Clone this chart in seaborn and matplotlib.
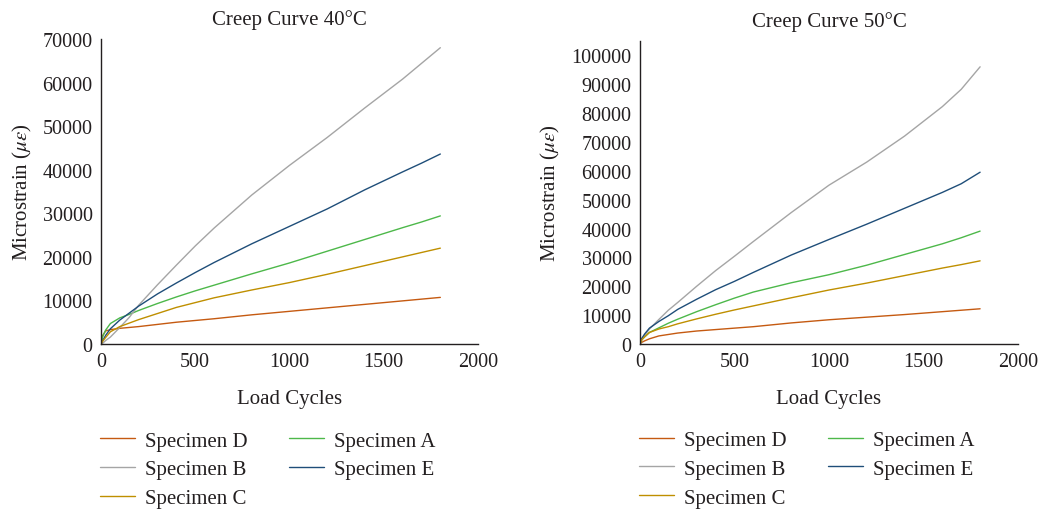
import numpy as np
import pandas as pd
import matplotlib
matplotlib.use("Agg")
import matplotlib.pyplot as plt
import seaborn as sns

cycles = [0, 10, 25, 50, 100, 150, 200, 300, 400, 500, 600, 800, 1000, 1200, 1400, 1600, 1700, 1800]

# 40 C readings (microstrain)
d40 = [0, 2000, 3000, 3300, 3600, 3800, 4000, 4500, 5000, 5400, 5800, 6700, 7500, 8300, 9100, 9900, 10300, 10700]
a40 = [0, 1800, 3200, 4700, 6000, 6800, 7700, 9300, 10800, 12200, 13500, 16100, 18600, 21300, 24000, 26700, 28000, 29400]
b40 = [0, 200, 800, 1600, 3800, 6100, 8900, 13600, 18100, 22500, 26600, 34200, 41000, 47400, 54200, 60800, 64400, 68000]
e40 = [0, 800, 2000, 3500, 5500, 7100, 8700, 11500, 14000, 16400, 18700, 23000, 27000, 31000, 35400, 39500, 41500, 43600]
c40 = [0, 700, 1500, 2800, 4000, 4800, 5600, 7000, 8400, 9500, 10600, 12400, 14100, 16000, 18000, 20000, 21000, 22000]

# 50 C readings (microstrain)
d50 = [0, 600, 1100, 1800, 2800, 3300, 3800, 4500, 5000, 5500, 6000, 7300, 8400, 9300, 10200, 11200, 11700, 12200]
a50 = [0, 1500, 2500, 4000, 5600, 7200, 8600, 11200, 13600, 15900, 18000, 21200, 24000, 27300, 31000, 34700, 36800, 39100]
b50 = [0, 1500, 3000, 5200, 8500, 11700, 14400, 20000, 25400, 30400, 35500, 45500, 55000, 63000, 72000, 82200, 88200, 96000]
e50 = [0, 2000, 3500, 5500, 7800, 9800, 12000, 15500, 18800, 21700, 24800, 30800, 36200, 41500, 47000, 52500, 55500, 59500]
c50 = [0, 1500, 2500, 4000, 5200, 6000, 7000, 8700, 10300, 11800, 13200, 16000, 18700, 21100, 23700, 26300, 27500, 28800]

specimens = ["Specimen D", "Specimen A", "Specimen B", "Specimen E", "Specimen C"]
colors = {"Specimen D": "#C55A11", "Specimen A": "#4DB84A", "Specimen B": "#A5A5A5",
          "Specimen E": "#1F4E79", "Specimen C": "#BF8F00"}


def long_df(series):
    rows = []
    for name, vals in zip(specimens, series):
        for c, v in zip(cycles, vals):
            rows.append({"cycles": c, "strain": v, "specimen": name})
    return pd.DataFrame(rows)


df40 = long_df([d40, a40, b40, e40, c40])
df50 = long_df([d50, a50, b50, e50, c50])

sns.set_style("white")
plt.rcParams["font.family"] = ["Liberation Serif", "DejaVu Serif"]
plt.rcParams["mathtext.fontset"] = "stix"

fig = plt.figure(figsize=(10.44, 5.10), dpi=100)
ax1 = fig.add_axes([0.0967, 0.3235, 0.3612, 0.5981])
ax2 = fig.add_axes([0.613, 0.3235, 0.362, 0.5945])

fs_tick = 14.5
fs = 15
txt = "#231F20"
legend_order = ["Specimen D", "Specimen B", "Specimen C", "Specimen A", "Specimen E"]

for ax, df, title, ymax, ytop, ylpad in [(ax1, df40, "Creep Curve 40°C", 70000, 70000, 6),
                                         (ax2, df50, "Creep Curve 50°C", 100000, 105000, 7)]:
    sns.lineplot(data=df, x="cycles", y="strain", hue="specimen", palette=colors,
                 hue_order=specimens, linewidth=1.0, ax=ax)
    ax.set_xlim(0, 2000)
    ax.set_ylim(0, ytop)
    ax.set_xticks(np.arange(0, 2001, 500))
    ax.set_yticks(np.arange(0, ymax + 1, 10000))
    ax.tick_params(length=0, labelsize=fs_tick, colors=txt, pad=6)
    ax.set_title(title, fontsize=fs, color=txt, pad=11)
    ax.set_xlabel("Load Cycles", fontsize=fs, color=txt, labelpad=13)
    ax.set_ylabel(r"Microstrain ($\mu\varepsilon$)", fontsize=fs, color=txt, labelpad=ylpad)
    sns.despine(ax=ax)
    for s in ["left", "bottom"]:
        ax.spines[s].set_color(txt)
        ax.spines[s].set_linewidth(1.0)
    handles, labels = ax.get_legend_handles_labels()
    hmap = dict(zip(labels, handles))
    ax.legend([hmap[k] for k in legend_order], legend_order, ncol=2, frameon=False,
              loc="upper left", bbox_to_anchor=(-0.003, -0.285), borderaxespad=0, borderpad=0,
              fontsize=fs, handlelength=1.68, handletextpad=0.48, columnspacing=2.0,
              labelspacing=0.44, labelcolor=txt)

fig.savefig("out.png", dpi=100)
